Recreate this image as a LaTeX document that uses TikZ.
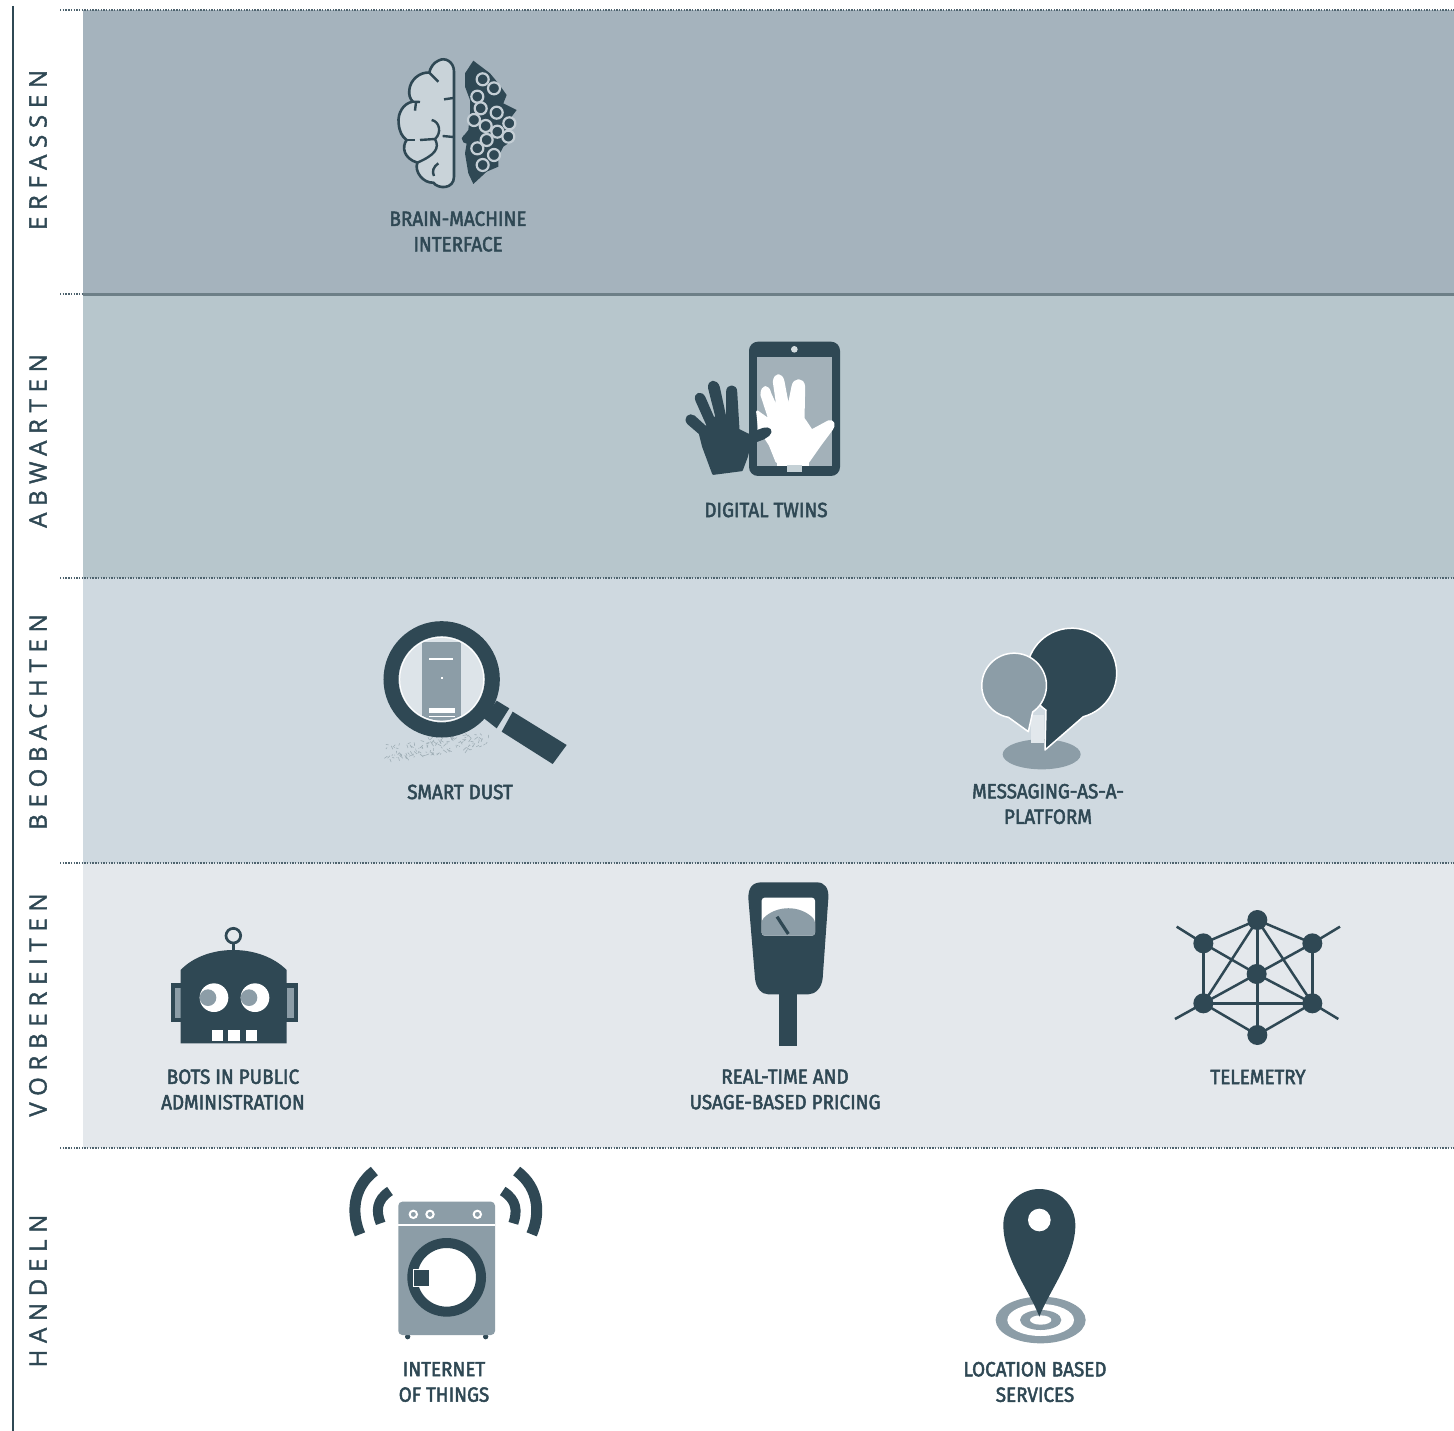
\documentclass[tikz,border=0pt]{standalone}
\usepackage{fontspec}
\newfontfamily\lblfont[FakeStretch=0.92,FakeBold=2.4]{Fira Sans}
\newfontfamily\sidefont[LetterSpace=28,FakeBold=1.6]{Open Sans}
\definecolor{bandA}{HTML}{A5B3BD}
\definecolor{bandB}{HTML}{B7C6CC}
\definecolor{bandC}{HTML}{CFD9E0}
\definecolor{bandD}{HTML}{E4E8EC}
\definecolor{ink}{HTML}{2F4854}
\definecolor{midg}{HTML}{8C9DA7}
\definecolor{brainfill}{HTML}{C9D3D9}
\tikzset{
  px/.style args={#1 #2}{shift={(#1,#2)},x=0.33333pt,y=-0.33333pt},
  dotline/.style={draw=ink!85,line width=1.3pt,dash pattern=on 1.4pt off 1.3pt},
  sidelabel/.style={rotate=90,text=ink,font=\sidefont\fontsize{24}{24}\selectfont,inner sep=0pt},
  iconlabel/.style={text=ink,align=center,inner sep=0pt,font=\lblfont\fontsize{20.5}{25.5}\selectfont},
  net/.style={ink,line width=2.5pt},
  netnode/.style={circle,fill=ink,minimum size=20pt,inner sep=0pt},
  fat/.style={line width=2.4pt,line join=round}
}
\begin{document}
\begin{tikzpicture}[x=1pt,y=-1pt]
\useasboundingbox (0,0) rectangle (1454,1431);
\fill[white] (0,0) rectangle (1454,1431);
% bands
\fill[bandA] (83,10) rectangle (1454,294);
\fill[bandB] (83,294) rectangle (1454,578);
\fill[bandC] (83,578) rectangle (1454,863);
\fill[bandD] (83,863) rectangle (1454,1148);
\draw[ink,line width=1.3pt] (13,6) -- (13,1431);
\draw[dotline] (60,10) -- (1454,10);
\draw[dotline] (60,294) -- (83,294);
\draw[ink!70,line width=2.4pt] (83,294.5) -- (1454,294.5);
\draw[dotline] (60,578) -- (1454,578);
\draw[dotline] (60,863) -- (1454,863);
\draw[dotline] (60,1148) -- (1454,1148);
% side labels
\node[sidelabel] (s1) at (38,150) {ERFASSEN};
\node[sidelabel] (s2) at (38,441) {ABWARTEN};
\node[sidelabel] (s3) at (38,722) {BEOBACHTEN};
\node[sidelabel] (s4) at (38,1005) {VORBEREITEN};
\node[sidelabel] (s5) at (38,1291) {HANDELN};
% icon labels
\node[iconlabel] (l1) at (458,231.5) {BRAIN-MACHINE\\INTERFACE};
\node[iconlabel] (l2) at (766,510) {DIGITAL TWINS};
\node[iconlabel] (l3) at (460,792) {SMART DUST};
\node[iconlabel] (l4) at (1048,804) {MESSAGING-AS-A-\\PLATFORM};
\node[iconlabel] (l5) at (233,1089.5) {BOTS IN PUBLIC\\ADMINISTRATION};
\node[iconlabel] (l6) at (785,1089.5) {REAL-TIME AND\\USAGE-BASED PRICING};
\node[iconlabel] (l7) at (1258,1077) {TELEMETRY};
\node[iconlabel] (l8) at (444,1382) {INTERNET\\OF THINGS};
\node[iconlabel] (l9) at (1035,1382) {LOCATION BASED\\SERVICES};
% brain
\begin{scope}[px=370 40]
\fill[brainfill] (252,410) -- (252,95) .. controls (252,65) and (225,50) .. (205,62) .. controls (190,68) and (180,85) .. (178,98) .. controls (150,95) and (120,120) .. (118,150) .. controls (116,165) and (120,175) .. (128,185) .. controls (100,190) and (82,220) .. (86,250) .. controls (88,275) and (96,290) .. (110,300) .. controls (95,320) and (100,355) .. (142,368) .. controls (132,395) and (160,430) .. (190,428) .. controls (205,448) and (252,448) .. (252,410);
\draw[ink,line width=2.6pt,line join=round] (252,410) -- (252,95) .. controls (252,65) and (225,50) .. (205,62) .. controls (190,68) and (180,85) .. (178,98) .. controls (150,95) and (120,120) .. (118,150) .. controls (116,165) and (120,175) .. (128,185) .. controls (100,190) and (82,220) .. (86,250) .. controls (88,275) and (96,290) .. (110,300) .. controls (95,320) and (100,355) .. (142,368) .. controls (132,395) and (160,430) .. (190,428) .. controls (205,448) and (252,448) .. (252,410);
\draw[ink,line width=2.4pt] (178,98) -- (205,125);
\draw[ink,line width=2.4pt] (128,185) -- (150,186) (138,186) -- (135,212);
\draw[ink,line width=2.4pt] (222,178) -- (250,174);
\draw[ink,line width=2.4pt] (185,240) .. controls (210,245) and (215,280) .. (195,297) -- (150,300);
\draw[ink,line width=2.4pt] (110,300) -- (135,300);
\draw[ink,line width=2.4pt] (218,288) -- (250,291);
\draw[ink,line width=2.4pt] (195,297) .. controls (210,325) and (195,345) .. (142,368);
\draw[ink,line width=2.4pt] (205,370) .. controls (190,380) and (185,395) .. (192,408);
\fill[ink] (310,62) -- (360,100) -- (385,130) -- (410,165) -- (400,190) -- (440,210) -- (410,250) -- (430,300) -- (400,320) -- (385,350) -- (385,380) -- (350,395) -- (310,432) -- (295,400) -- (285,340) -- (290,310) -- (275,295) -- (295,270) -- (300,220) -- (300,180) -- (285,140) -- (285,100) -- cycle;
\foreach \cx/\cy in {338/118,372/145,322/170,332/205,380/218,312/240,347/258,382/275,418/250,350/300,322/325,415/290,372/345,338/375}
  \draw[brainfill!85!bandA,fill=ink,line width=2.2pt] (\cx,\cy) circle[radius=18];
\fill[ink] (290,297) circle[radius=14];
\end{scope}
% digital twins
\begin{scope}[px=670 330]
\fill[ink,rounded corners=9pt] (237,35) rectangle (510,438);
\fill[midg!80!white] (262,80) rectangle (487,408);
\fill[bandB!60!white] (373,58) circle[radius=10];
\path[fill=white,draw=white,fat] (320,395) -- (300,345) -- (268,295) -- (262,245) -- (300,272) -- (275,195) .. controls (275,165) and (295,165) .. (300,190) -- (325,245) -- (312,155) .. controls (315,130) and (335,130) .. (340,155) -- (355,235) -- (368,170) .. controls (372,145) and (400,145) .. (402,170) -- (400,265) -- (425,302) -- (475,275) .. controls (490,270) and (495,285) .. (485,298) -- (450,345) -- (415,395) -- cycle;
\fill[white] (320,392) rectangle (418,408);
\fill[bandB!80!white] (352,405) rectangle (395,425);
\path[fill=ink,draw=ink,fat] (130,431) -- (100,350) -- (90,310) -- (55,280) .. controls (42,265) and (58,250) .. (72,260) -- (105,290) -- (115,290) -- (80,212) .. controls (72,190) and (95,185) .. (103,203) -- (130,265) -- (140,262) -- (118,175) .. controls (115,150) and (140,150) .. (146,172) -- (165,260) -- (172,262) -- (172,185) .. controls (172,165) and (198,165) .. (198,185) -- (205,300) -- (235,315) -- (280,297) .. controls (298,292) and (308,303) .. (295,315) -- (280,325) -- (240,340) -- (230,380) -- (215,420) -- cycle;
\end{scope}
% smart dust
\begin{scope}[px=370 610]
\fill[bandC!70!white] (215,208) circle[radius=130];
\begin{scope}
\clip (215,208) circle[radius=124];
\fill[midg] (157,95) rectangle (272,340);
\fill[white] (178,144) rectangle (248,150);
\fill[white] (212,202) rectangle (218,208);
\fill[white] (178,295) rectangle (255,308);
\fill[white] (178,317) rectangle (255,322);
\end{scope}
\pgfmathsetseed{7}
\foreach \i in {1,...,130}{
  \pgfmathsetmacro{\dx}{50+310*rnd}
  \pgfmathsetmacro{\dy}{428-(\dx-50)*0.13+50*(rnd-0.5)}
  \pgfmathsetmacro{\ex}{22*(rnd-0.5)}
  \pgfmathsetmacro{\ey}{22*(rnd-0.5)}
  \draw[midg!85,line width=.55pt] (\dx,\dy) -- ++(\ex,\ey);
}
\draw[white,line width=1pt] (215,208) circle[radius=126];
\draw[ink,line width=15pt] (215,208) circle[radius=152];
\fill[ink] (380,272) -- (418,295) -- (380,355) -- (342,325) -- cycle;
\fill[ink] (428,305) -- (590,405) -- (548,462) -- (395,365) -- cycle;
\end{scope}
% messaging
\begin{scope}[px=960 615]
\fill[midg] (245,418) ellipse[x radius=117,y radius=45];
\fill[bandC!60!white] (212,300) rectangle (252,385);
\draw[white,fill=ink,line width=1.5pt,line join=round] (258,285) -- (255,405) -- (370,305) arc[start angle=75,end angle=-235,radius=135] -- cycle;
\draw[white,fill=midg,line width=1.5pt,line join=round] (218,291) arc[start angle=55,end angle=-260,radius=97] -- (205,350) -- cycle;
\end{scope}
% robot
\begin{scope}[px=150 915]
\draw[ink,line width=2.7pt] (250,62) circle[radius=22];
\draw[ink,line width=2.5pt] (250,84) -- (250,108);
\fill[ink] (62,205) rectangle (445,322);
\fill[midg] (75,218) rectangle (92,310);
\fill[midg] (410,218) rectangle (432,310);
\fill[ink] (92,385) -- (92,165) .. controls (130,125) and (190,105) .. (250,105) .. controls (310,105) and (370,125) .. (410,165) -- (410,385) -- cycle;
\fill[white] (192,248) circle[radius=43];
\fill[white] (315,248) circle[radius=43];
\fill[midg] (174,248) circle[radius=25];
\fill[midg] (297,248) circle[radius=25];
\fill[white] (187,345) rectangle (220,378);
\fill[white] (235,345) rectangle (270,378);
\fill[white] (287,345) rectangle (320,378);
\end{scope}
% meter
\begin{scope}[px=680 875]
\fill[ink] (298,350) rectangle (350,513);
\fill[ink] (245,22) -- (410,22) .. controls (435,22) and (447,40) .. (445,70) -- (428,310) .. controls (425,340) and (405,358) .. (385,358) -- (265,358) .. controls (245,358) and (228,340) .. (225,310) -- (205,70) .. controls (205,40) and (215,22) .. (245,22) -- cycle;
\fill[white,rounded corners=3pt] (245,68) rectangle (405,182);
\fill[midg,rounded corners=3pt] (245,182) -- (245,135) .. controls (290,90) and (360,90) .. (405,135) -- (405,182) -- cycle;
\draw[ink,line width=3.2pt] (291,125) -- (325,177);
\end{scope}
% telemetry
\begin{scope}[px=1160 895]
\node[netnode] (nT) at (292,75) {};
\node[netnode] (nUL) at (130,145) {};
\node[netnode] (nUR) at (457,145) {};
\node[netnode] (nC) at (290,237) {};
\node[netnode] (nLL) at (130,325) {};
\node[netnode] (nLR) at (457,325) {};
\node[netnode] (nB) at (292,420) {};
\coordinate (eUL) at (50,95);
\coordinate (eUR) at (540,95);
\coordinate (eLL) at (45,372);
\coordinate (eLR) at (535,372);
\draw[net] (nT.center) -- (nUL.center);
\draw[net] (nT.center) -- (nUR.center);
\draw[net] (nT.center) -- (nB.center);
\draw[net] (nT.center) -- (nLL.center);
\draw[net] (nT.center) -- (nLR.center);
\draw[net] (nUL.center) -- (nC.center);
\draw[net] (nC.center) -- (nLR.center);
\draw[net] (nUR.center) -- (nC.center);
\draw[net] (nC.center) -- (nLL.center);
\draw[net] (nUL.center) -- (nLL.center);
\draw[net] (nUR.center) -- (nLR.center);
\draw[net] (nLL.center) -- (nLR.center);
\draw[net] (nLL.center) -- (nB.center);
\draw[net] (nLR.center) -- (nB.center);
\draw[net] (nUL.center) -- (eUL);
\draw[net] (nUR.center) -- (eUR);
\draw[net] (nLL.center) -- (eLL);
\draw[net] (nLR.center) -- (eLR);
\end{scope}
% washer
\begin{scope}[px=340 1155]
\fill[ink] (203,545) circle[radius=8];
\fill[ink] (437,545) circle[radius=8];
\fill[midg,rounded corners=4pt] (175,140) rectangle (465,540);
\fill[white] (175,206) rectangle (465,212);
\foreach \kx in {220,270,412}{
  \draw[white,line width=2pt] (\kx,178) circle[radius=11];
}
\fill[white] (320,367) circle[radius=90];
\draw[ink,line width=10pt] (320,367) circle[radius=103];
\draw[white,fill=ink,line width=1pt] (219,342) rectangle (269,394);
\draw[ink,line width=11pt] (103,48) .. controls (35,100) and (35,180) .. (60,238);
\draw[ink,line width=10pt] (150,108) .. controls (108,135) and (108,170) .. (122,205);
\draw[ink,line width=11pt] (530,48) .. controls (600,100) and (600,180) .. (575,238);
\draw[ink,line width=10pt] (488,108) .. controls (532,135) and (532,170) .. (520,205);
\end{scope}
% location pin
\begin{scope}[px=950 1175]
\fill[midg] (272,435) ellipse[x radius=135,y radius=70];
\fill[white] (272,435) ellipse[x radius=100,y radius=48];
\fill[midg] (272,435) ellipse[x radius=62,y radius=30];
\fill[white] (272,435) ellipse[x radius=32,y radius=14];
\fill[ink] (268,425) .. controls (240,350) and (160,250) .. (160,150) arc[start angle=180,end angle=360,radius=108] .. controls (376,250) and (296,350) .. (268,425) -- cycle;
\fill[white] (268,135) circle[radius=34];
\end{scope}
\end{tikzpicture}
\end{document}
